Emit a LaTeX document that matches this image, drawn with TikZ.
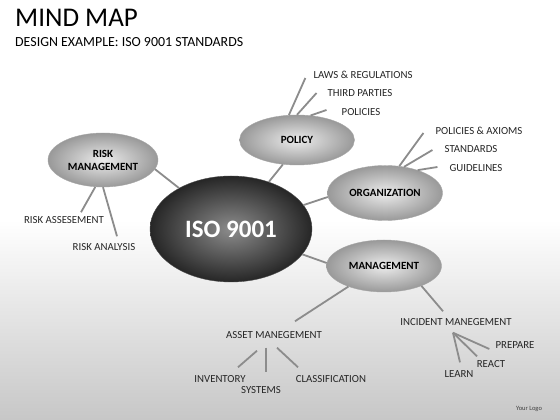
\documentclass[tikz,border=0pt]{standalone}
\usepackage{fontspec}
\setmainfont{Carlito}
\usetikzlibrary{positioning}
\usetikzlibrary{shapes.geometric}

\begin{document}
\begin{tikzpicture}[
    x = 1pt,
    y = 1pt,
    hubf/.style = {
      ellipse,
      draw=black!70,
      inner color=black!45,
      outer color=black!85,
      minimum width=162pt,
      minimum height=106pt,
      inner sep=0pt,
      text=white,
      font=\fontsize{25}{28}\selectfont\bfseries
    },
    topicf/.style = {
      ellipse,
      draw=gray!70,
      inner color=gray!15,
      outer color=gray!80,
      minimum width=115pt,
      minimum height=52pt,
      inner sep=0pt,
      align=center,
      font=\fontsize{11}{13}\selectfont\bfseries
    },
    leafa/.style = {
      inner sep=1pt,
      text=black!85,
      font=\fontsize{10.8}{12}\selectfont
    },
    linka/.style = {
      draw=gray!90,
      line width=1.8pt
    }
  ]
    \useasboundingbox (0,0) rectangle (560,420);
    \fill[white] (0,0) rectangle (560,420);
    \shade[top color=white, bottom color=gray!44] (0,0) rectangle (560,200);

    \node[anchor=base west, inner sep=0pt, font=\fontsize{27}{30}\selectfont] (title) at (15,393) {MIND MAP};
    \node[anchor=base west, inner sep=0pt, font=\fontsize{13.9}{16}\selectfont] (subtitle) at (15,373) {DESIGN EXAMPLE: ISO 9001 STANDARDS};

    \node[hubf] (hub) at (231,191) {ISO 9001};
    \node[topicf, minimum width=110pt, minimum height=54pt] (risk) at (103,260) {RISK\\MANAGEMENT};
    \node[topicf, minimum height=50pt] (policy) at (297,280) {POLICY};
    \node[topicf, minimum height=55pt] (org) at (385,227) {ORGANIZATION};
    \node[topicf] (mgmt) at (384,154) {MANAGEMENT};

    \node[leafa] (laws) at (363,345) {LAWS \& REGULATIONS};
    \node[leafa] (third) at (360,327) {THIRD PARTIES};
    \node[leafa] (pol) at (361,308) {POLICIES};
    \node[leafa] (axioms) at (479,289) {POLICIES \& AXIOMS};
    \node[leafa] (stand) at (471,271) {STANDARDS};
    \node[leafa] (guide) at (476,252) {GUIDELINES};
    \node[leafa] (assess) at (64,200) {RISK ASSESEMENT};
    \node[leafa] (analysis) at (104,173) {RISK ANALYSIS};
    \node[leafa] (asset) at (274,85) {ASSET MANEGEMENT};
    \node[leafa] (inventory) at (220,41) {INVENTORY};
    \node[leafa] (systems) at (261,30) {SYSTEMS};
    \node[leafa] (classif) at (331,41) {CLASSIFICATION};
    \node[leafa] (incident) at (456,98) {INCIDENT MANEGEMENT};
    \node[leafa] (prepare) at (515,75) {PREPARE};
    \node[leafa] (react) at (491,56) {REACT};
    \node[leafa] (learn) at (459,46) {LEARN};
    \node[font=\fontsize{6.5}{7}\selectfont, text=black!75] (logo) at (529,11) {Your Logo};

    \draw[linka] (hub) -- (risk.-10);
    \draw[linka] (hub) -- (policy.-120);
    \draw[linka] (hub) -- (org.184);
    \draw[linka] (hub) -- (mgmt.177);

    \draw[linka] (risk.-106) -- ([xshift=17pt,yshift=3pt]assess.north);
    \draw[linka] (risk.-90) -- ([xshift=13pt,yshift=6pt]analysis.north);

    \draw[linka] (policy.108) -- ([xshift=-7pt,yshift=-3pt]laws.west);
    \draw[linka] (policy.90) -- ([xshift=-10pt]third.west);
    \draw[linka] (policy.61) -- ([xshift=-14pt,yshift=2pt]pol.west);

    \draw[linka] (org.62) -- ([xshift=-11pt,yshift=-2pt]axioms.west);
    \draw[linka] (org.54) -- ([xshift=-11pt,yshift=-1pt]stand.west);
    \draw[linka] (org.35) -- ([xshift=-11pt,yshift=1pt]guide.west);

    \draw[linka] (mgmt.-150) -- ([xshift=21pt,yshift=9pt]asset.north);
    \draw[linka] ([xshift=-17pt,yshift=-11pt]asset.south) -- ([xshift=18pt,yshift=7pt]inventory.north);
    \draw[linka] ([xshift=-8pt,yshift=-8pt]asset.south) -- ([xshift=5pt,yshift=13pt]systems.north);
    \draw[linka] ([xshift=3pt,yshift=-8pt]asset.south) -- ([xshift=-33pt,yshift=7pt]classif.north);

    \draw[linka] (mgmt.-28) -- ([xshift=-13pt,yshift=6pt]incident.north);
    \draw[linka] ([xshift=-3pt,yshift=-6pt]incident.south) -- ([xshift=-5pt,yshift=-4pt]prepare.west);
    \draw[linka] ([xshift=-3pt,yshift=-6pt]incident.south) -- ([xshift=-14pt,yshift=3pt]react.north);
    \draw[linka] ([xshift=-3pt,yshift=-6pt]incident.south) -- ([xshift=1pt,yshift=7pt]learn.north);

  \end{tikzpicture}
\end{document}
